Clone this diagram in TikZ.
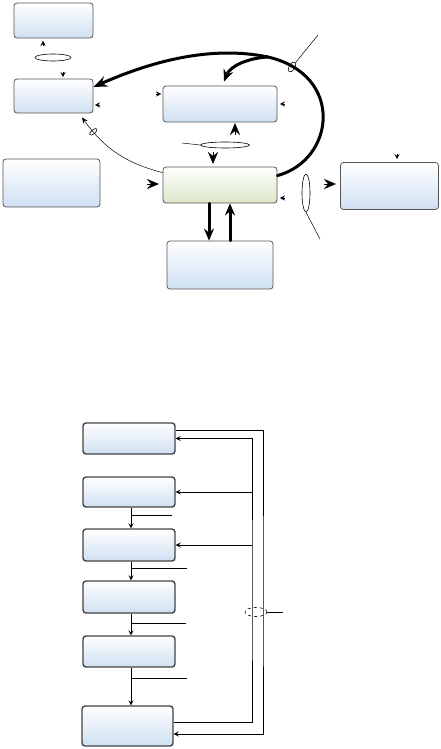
\documentclass[tikz,border=0pt]{standalone}
\usepackage[dvipsnames]{xcolor}
\usetikzlibrary{arrows.meta,shapes.geometric}

\definecolor{boxblue}{HTML}{CFE0F2}
\definecolor{boxgreen}{HTML}{DCE8C8}
\definecolor{boxline}{HTML}{555555}

\begin{document}
\begin{tikzpicture}[x=1pt, y=-1pt,
	box/.style={draw=boxline, line width=0.8pt, rounded corners=3pt, top color=white, bottom color=boxblue},
	greenbox/.style={box, bottom color=boxgreen},
	stagebox/.style={box, draw=boxline!80!black, line width=1.4pt},
	ring/.style={draw, ellipse, inner sep=0pt, line width=0.6pt},
	thinline/.style={line width=0.5pt},
	bigline/.style={line width=3pt, line cap=round},
	flowline/.style={line width=0.8pt},
	tipsmall/.style={-{Stealth[length=5pt,width=5pt,inset=2pt]}, line width=0.4pt},
	tipbig/.style={-{Stealth[length=12pt,width=10pt,inset=4pt]}, line width=0.4pt}]
\useasboundingbox (0,0) rectangle (441,749);

% upper diagram
\node[box, minimum width=79pt, minimum height=35pt] (tl) at (53.5,20.5) {};
\node[box, minimum width=79pt, minimum height=34pt] (ml) at (53.5,96) {};
\node[box, minimum width=97pt, minimum height=48pt] (bl) at (51.5,183) {};
\node[box, minimum width=114pt, minimum height=36pt] (upper) at (220,104) {};
\node[greenbox, minimum width=114pt, minimum height=36pt] (hub) at (220,185) {};
\node[box, minimum width=106pt, minimum height=48pt] (lower) at (220,265) {};
\node[box, minimum width=98pt, minimum height=47pt] (right) at (389.5,186) {};

\node[ring, minimum width=36pt, minimum height=7pt] (tlring) at (53,57.5) {};
\node[ring, minimum width=49pt, minimum height=6pt] (mid) at (225,145) {};
\node[ring, minimum width=8pt, minimum height=38pt] (side) at (306,193) {};
\node[ring, minimum width=6pt, minimum height=11pt, rotate=-30] (tap) at (292,67) {};

\coordinate (midEnd) at (182,143);
\coordinate (sideEnd) at (320,239);
\coordinate (tapEnd) at (318,35);

% loop from the hub
\draw[bigline] ([yshift=-9pt]hub.north east) .. controls (335,160) and (345,75) .. (268,57) coordinate (split);
\draw[bigline, -{Stealth[length=14pt,width=11pt,inset=5pt]}] (split) .. controls (210,45) and (150,62) .. ([yshift=9pt]ml.east);
\draw[bigline, -{Stealth[length=12pt,width=10pt,inset=4pt]}] (split) .. controls (248,58) and (230,66) .. ([xshift=4pt,yshift=4pt]upper.north);

\draw[thinline] (tap) -- (tapEnd);
\draw[thinline] (midEnd) -- (mid.west);
\draw[thinline] (side.south) -- (sideEnd);

\draw[thinline, -{Stealth[length=6pt,width=5pt,inset=2pt]}] ([yshift=-6pt]hub.north west) to[bend left=20]
	node[ring, pos=0.83, sloped, minimum width=4pt, minimum height=9pt] {} ([xshift=28.5pt,yshift=-4pt]ml.south);

\draw[bigline, -{Stealth[length=12pt,width=10pt,inset=4pt]}] ([xshift=-11pt]hub.south) -- ([xshift=-11pt]lower.north);
\draw[bigline, -{Stealth[length=12pt,width=10pt,inset=4pt]}] ([xshift=10pt]lower.north) -- ([xshift=10pt]hub.south);

% loose arrow tips
\foreach \x/\y/\dx/\dy in {43/46/0/-5, 63/72/0/5, 100/105/-5/0, 156/94/5/0, 285/104/-5/0, 285/198/-5/0, 397/154/0/5}
	\draw[tipsmall] (\x,\y) -- ++(\dx,\dy);
\foreach \x/\y/\dx/\dy in {235/135/0/-12, 213/152/0/12, 147/184/12/0, 324/184/12/0}
	\draw[tipbig] (\x,\y) -- ++(\dx,\dy);

% lower diagram
\node[stagebox, minimum width=92pt, minimum height=31pt] (s1) at (129,438.5) {};
\node[stagebox, minimum width=92pt, minimum height=30pt] (s2) at (129,492) {};
\node[stagebox, minimum width=92pt, minimum height=32pt] (s3) at (129,545) {};
\node[stagebox, minimum width=92pt, minimum height=32pt] (s4) at (129,597) {};
\node[stagebox, minimum width=92pt, minimum height=31pt] (s5) at (129,651.5) {};
\node[stagebox, minimum width=91pt, minimum height=40pt] (s6) at (127.5,726) {};

\coordinate (colX) at (131,0);
\coordinate (busI) at (252,600);
\coordinate (busO) at (263,600);

\foreach \a/\b/\p/\l in {s2/s3/0.36/41, s3/s4/0.35/56, s4/s5/0.43/55, s5/s6/0.28/56}{
	\draw[flowline, -{Stealth[length=5pt,width=5pt,inset=2pt]}] (\a.south -| colX) -- coordinate[pos=\p] (br\a) (\b.north -| colX);
	\draw[flowline] (br\a) -- ++(\l,0);
}

\draw[flowline, -{Stealth[length=5pt,width=5pt,inset=2pt]}] ([yshift=8.5pt]s1.east) -| (busO) |- ([yshift=-8pt]s6.east);
\draw[flowline, -{Stealth[length=5pt,width=5pt,inset=2pt]}] ([yshift=4pt]s6.east) -| (busI) |- (s1.east);
\draw[flowline, -{Stealth[length=5pt,width=5pt,inset=2pt]}] (s2.east -| busI) -- (s2.east);
\draw[flowline, -{Stealth[length=5pt,width=5pt,inset=2pt]}] (s3.east -| busI) -- (s3.east);

\node[ring, dashed, minimum width=22pt, minimum height=9pt] (bundle) at (256,612) {};
\coordinate (bundleEnd) at (283,612);
\draw[thinline] (bundle.east) -- (bundleEnd);

\end{tikzpicture}
\end{document}
